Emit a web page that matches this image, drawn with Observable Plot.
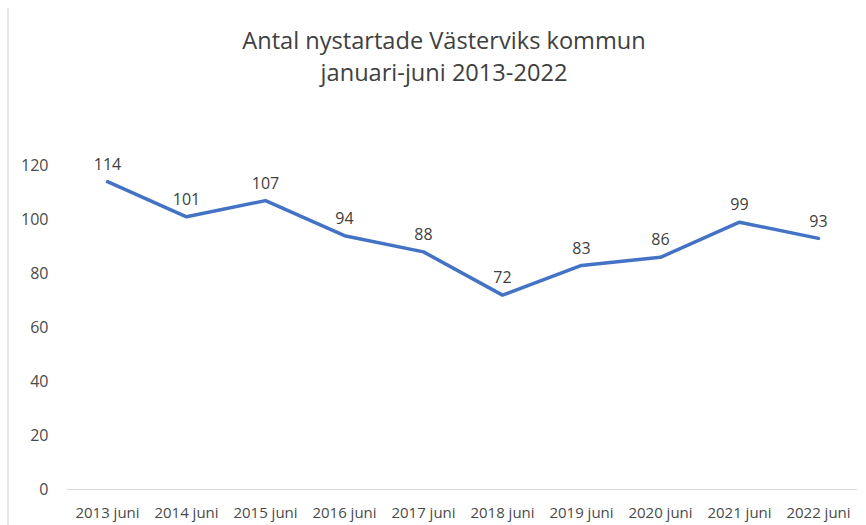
<!DOCTYPE html>
<html>
<head>
<meta charset="utf-8">
<script src="https://cdn.jsdelivr.net/npm/d3@7"></script>
<script src="https://cdn.jsdelivr.net/npm/@observablehq/plot@0.6"></script>
<style>
  html, body { margin: 0; padding: 0; background: #fff; }
  #wrap { position: relative; width: 866px; height: 525px; overflow: hidden; }
  #title { position: absolute; left: 0; width: 888px; top: 24px; text-align: center;
           font-family: "Open Sans", sans-serif; font-size: 23.6px; line-height: 32px; color: #404040; }
  #chart { position: absolute; left: 0; top: 0; }
  #border { position: absolute; left: 7px; top: 8px; width: 2px; height: 530px; background: #e6e6e6; }
</style>
</head>
<body>
<div id="wrap">
  <div id="chart"></div>
  <div id="border"></div>
  <div id="title">Antal nystartade Västerviks kommun<br>januari-juni 2013-2022</div>
</div>
<script>
const categories = ["2013 juni","2014 juni","2015 juni","2016 juni","2017 juni","2018 juni","2019 juni","2020 juni","2021 juni","2022 juni"];
const values = [114, 101, 107, 94, 88, 72, 83, 86, 99, 93];
const yTicks = [0, 20, 40, 60, 80, 100, 120];

const data = categories.map((c, i) => ({cat: c, v: values[i]}));

const chart = Plot.plot({
  width: 866,
  height: 525,
  marginLeft: 67,
  marginRight: 9,
  marginTop: 165,
  marginBottom: 36,
  style: {fontFamily: "Open Sans, sans-serif", background: "#fff", overflow: "visible"},
  x: {type: "point", domain: categories, padding: 0.5, label: null},
  y: {domain: [0, 120], label: null},
  marks: [
    Plot.ruleY([0], {stroke: "#d9d9d9", strokeWidth: 1.2}),
    Plot.axisX({tickSize: 0, tickPadding: 18, fontSize: 15, fill: "#4a4a4a", label: null}),
    Plot.axisY({ticks: yTicks, tickSize: 0, tickPadding: 19, fontSize: 16, fill: "#4a4a4a", label: null}),
    Plot.line(data, {x: "cat", y: "v", stroke: "#4472c4", strokeWidth: 3.5, strokeLinejoin: "round"}),
    Plot.text(data, {x: "cat", y: "v", text: d => String(d.v), dy: -17, fontSize: 16, fill: "#404040"})
  ]
});
document.getElementById("chart").appendChild(chart);
</script>
</body>
</html>
